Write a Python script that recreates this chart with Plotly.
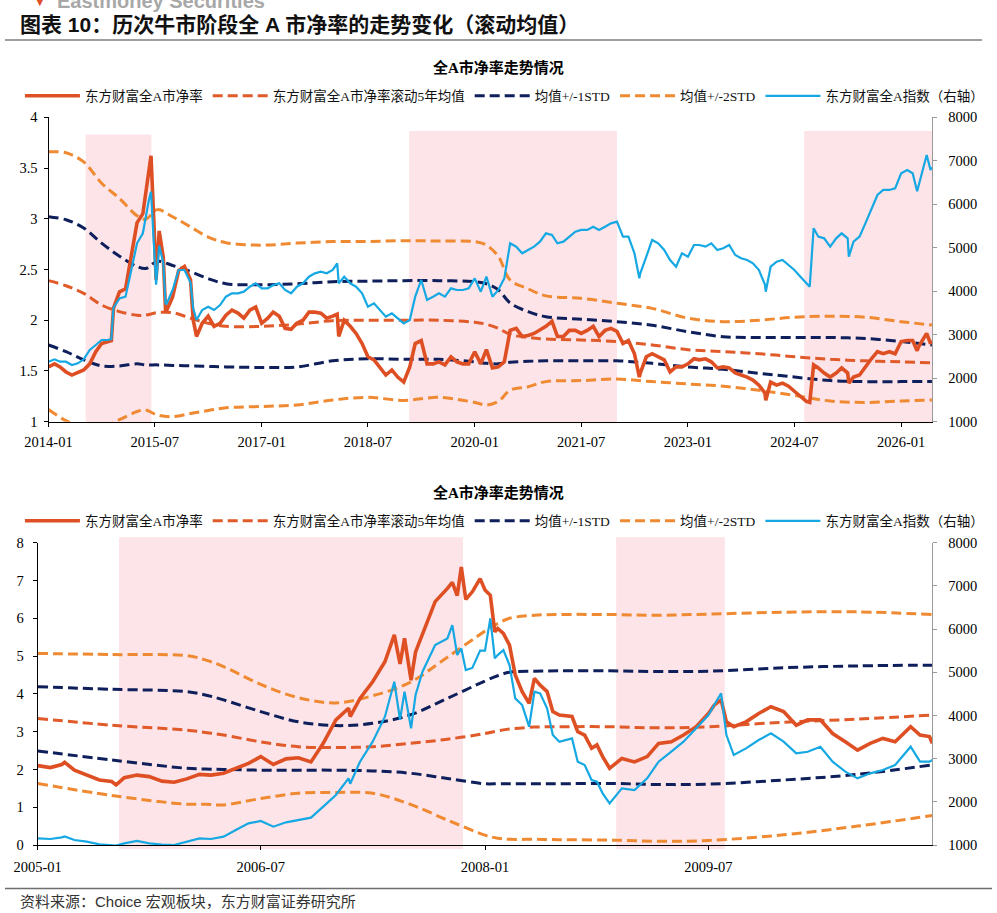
import plotly.graph_objects as go

# ---------------- TOP CHART DATA (2014-2026) ----------------
top_dates = [
    "2014-01-01","2014-02-01","2014-03-01","2014-04-01","2014-05-01","2014-06-01","2014-07-01","2014-08-01","2014-09-01","2014-10-01","2014-11-01","2014-11-20","2014-12-01",
    "2015-01-01","2015-02-01","2015-03-01","2015-04-01","2015-05-01","2015-05-18","2015-06-01","2015-06-12","2015-06-26","2015-07-08","2015-07-24","2015-08-14","2015-08-26","2015-09-01","2015-10-01","2015-11-01","2015-12-01",
    "2016-01-01","2016-01-15","2016-02-01","2016-03-01","2016-04-01","2016-05-01","2016-06-01","2016-07-01","2016-08-01","2016-09-01","2016-10-01","2016-11-01","2016-12-01",
    "2017-01-01","2017-02-01","2017-03-01","2017-04-01","2017-05-01","2017-06-01","2017-07-01","2017-08-01","2017-09-01","2017-10-01","2017-11-01","2017-12-01",
    "2018-01-01","2018-01-24","2018-02-01","2018-03-01","2018-04-01","2018-05-01","2018-06-01","2018-07-01","2018-08-01","2018-09-01","2018-10-01","2018-11-01","2018-12-01",
    "2019-01-01","2019-02-01","2019-03-01","2019-04-01","2019-05-01","2019-06-01","2019-07-01","2019-08-01","2019-09-01","2019-10-01","2019-11-01","2019-12-01",
    "2020-01-01","2020-02-01","2020-03-01","2020-04-01","2020-05-01","2020-06-01","2020-07-01","2020-08-01","2020-09-01","2020-10-01","2020-11-01","2020-12-01",
    "2021-01-01","2021-02-01","2021-03-01","2021-04-01","2021-05-01","2021-06-01","2021-07-01","2021-08-01","2021-09-01","2021-10-01","2021-11-01","2021-12-01",
    "2022-01-01","2022-02-01","2022-03-01","2022-04-01","2022-04-26","2022-05-01","2022-06-01","2022-07-01","2022-08-01","2022-09-01","2022-10-01","2022-11-01","2022-12-01",
    "2023-01-01","2023-02-01","2023-03-01","2023-04-01","2023-05-01","2023-06-01","2023-07-01","2023-08-01","2023-09-01","2023-10-01","2023-11-01","2023-12-01",
    "2024-01-01","2024-02-01","2024-02-05","2024-03-01","2024-04-01","2024-05-01","2024-06-01","2024-07-01","2024-08-01","2024-09-01","2024-09-18","2024-10-08","2024-11-01","2024-12-01",
    "2025-01-01","2025-02-01","2025-03-01","2025-04-01","2025-04-07","2025-05-01","2025-06-01","2025-07-01","2025-08-01","2025-09-01","2025-10-01","2025-11-01","2025-12-01",
    "2026-01-01","2026-02-01","2026-03-01","2026-03-24","2026-04-01","2026-05-01","2026-05-12","2026-06-01","2026-06-08",
]
top_pb = [
    1.54,1.57,1.54,1.49,1.46,1.49,1.51,1.57,1.69,1.77,1.79,1.80,2.12,
    2.28,2.31,2.63,2.96,3.05,3.28,3.41,3.62,3.00,2.40,2.88,2.62,2.08,2.10,2.23,2.49,2.53,
    2.40,2.00,1.84,1.97,2.04,1.94,1.97,2.05,2.10,2.07,2.02,2.10,2.13,
    1.97,2.02,2.08,2.04,1.92,1.91,1.97,2.00,2.08,2.08,2.07,2.02,
    2.04,2.06,1.84,2.00,1.94,1.87,1.77,1.64,1.61,1.54,1.46,1.51,1.44,
    1.39,1.54,1.77,1.80,1.57,1.57,1.59,1.56,1.64,1.59,1.57,1.57,
    1.69,1.57,1.71,1.53,1.54,1.59,1.90,1.92,1.84,1.85,1.87,1.90,
    1.94,1.99,1.84,1.84,1.90,1.90,1.87,1.90,1.94,1.84,1.90,1.92,
    1.89,1.77,1.80,1.67,1.44,1.48,1.64,1.67,1.64,1.61,1.49,1.54,1.54,
    1.57,1.62,1.61,1.62,1.59,1.53,1.54,1.53,1.48,1.46,1.44,1.41,
    1.36,1.28,1.21,1.39,1.36,1.38,1.35,1.30,1.25,1.20,1.19,1.56,1.53,1.48,
    1.44,1.48,1.53,1.48,1.38,1.44,1.46,1.54,1.62,1.69,1.67,1.69,1.67,
    1.79,1.80,1.80,1.70,1.74,1.84,1.87,1.77,1.80,
]
top_index = [
    2380,2434,2380,2380,2304,2342,2434,2649,2764,2879,2879,2900,3620,
    3837,3875,4489,5102,5332,5800,6099,6290,5102,4150,5050,4650,3700,3722,4029,4489,4489,
    4200,3600,3338,3568,3645,3568,3683,3875,3952,3952,3990,4105,4182,
    4067,4067,4143,4182,4029,3952,4105,4182,4335,4412,4450,4412,
    4489,4640,4182,4335,4182,4105,3952,3645,3722,3568,3415,3492,3377,
    3262,3338,3875,4259,3799,3875,3952,3875,4067,4029,4029,4067,
    4297,3990,4335,3875,4029,4297,5102,5025,4872,4949,5025,5140,
    5332,5294,5102,5140,5255,5370,5409,5409,5485,5409,5485,5562,
    5600,5255,5255,4872,4300,4412,4795,5179,5102,4949,4719,4565,4872,
    4795,5063,5063,5025,5102,4949,4987,5063,4834,4757,4719,4642,
    4489,4150,3990,4565,4680,4719,4604,4489,4335,4182,4105,5450,5255,5217,
    5025,5217,5332,5217,4795,5140,5255,5562,5868,6214,6329,6329,6367,
    6712,6789,6712,6300,6450,6942,7134,6789,6850,
]
top_band_dates = [
    "2014-01-01","2014-04-01","2014-07-01","2014-10-01","2015-01-01","2015-04-01","2015-05-15","2015-07-15",
    "2015-10-01","2016-01-01","2016-04-01","2016-07-01","2017-01-01","2017-07-01","2018-01-01","2018-07-01",
    "2019-01-01","2019-07-01","2020-01-01","2020-03-01","2020-05-01","2020-07-01","2020-10-01","2021-01-01",
    "2021-07-01","2022-01-01","2022-07-01","2023-01-01","2023-07-01","2024-01-01","2024-07-01","2025-01-01",
    "2025-07-01","2026-01-01","2026-06-08",
]
top_mean = [2.39,2.34,2.265,2.15,2.085,2.05,2.05,2.075,2.075,2.02,1.97,1.94,1.94,1.96,1.996,2.0,
            2.0,2.0,1.98,1.96,1.92,1.86,1.83,1.815,1.805,1.79,1.756,1.71,1.69,1.67,1.64,1.615,1.60,1.59,1.58]
top_up1 = [3.02,2.99,2.91,2.76,2.63,2.53,2.51,2.58,2.54,2.48,2.41,2.36,2.35,2.36,2.38,2.385,
           2.39,2.39,2.38,2.36,2.30,2.17,2.085,2.035,2.01,1.986,1.95,1.887,1.838,1.83,1.83,1.83,1.82,1.79,1.756]
top_dn1 = [1.756,1.69,1.61,1.55,1.55,1.57,1.56,1.56,1.555,1.55,1.545,1.54,1.535,1.54,1.60,1.62,
           1.615,1.615,1.59,1.575,1.57,1.585,1.595,1.60,1.60,1.60,1.575,1.54,1.516,1.477,1.44,1.405,1.395,1.395,1.395]
top_up2 = [3.66,3.65,3.56,3.35,3.20,3.03,2.995,3.09,3.02,2.92,2.82,2.764,2.74,2.76,2.775,2.775,
           2.784,2.78,2.775,2.74,2.63,2.396,2.31,2.24,2.216,2.167,2.117,2.02,1.986,2.0,2.03,2.04,2.03,1.986,1.953]
top_dn2 = [1.12,1.01,0.95,0.95,1.02,1.10,1.115,1.066,1.05,1.08,1.11,1.138,1.15,1.165,1.214,1.24,
           1.21,1.24,1.19,1.165,1.20,1.31,1.345,1.395,1.405,1.42,1.395,1.372,1.35,1.31,1.26,1.204,1.19,1.204,1.214]
top_bull_start = ["2014-07-11", "2019-01-29", "2024-08-21"]
top_bull_end = ["2015-06-14", "2022-01-01", "2026-06-10"]

# ---------------- BOTTOM CHART DATA (2005-2010) ----------------
bot_dates = [
    "2005-01-01","2005-02-01","2005-03-01","2005-03-08","2005-04-01","2005-05-01","2005-06-01","2005-07-01","2005-07-12","2005-08-01","2005-09-01","2005-10-01","2005-11-01","2005-12-01",
    "2006-01-01","2006-02-01","2006-03-01","2006-04-01","2006-05-01","2006-06-01","2006-07-01","2006-08-01","2006-09-01","2006-10-01","2006-11-01","2006-12-01",
    "2007-01-01","2007-02-01","2007-02-05","2007-03-01","2007-04-01","2007-05-01","2007-05-24","2007-06-07","2007-06-18","2007-07-04","2007-07-15","2007-08-01","2007-09-01","2007-10-01","2007-10-13","2007-10-25","2007-11-04","2007-11-15","2007-12-01","2007-12-20",
    "2008-01-01","2008-01-14","2008-01-25","2008-02-01","2008-02-15","2008-03-01","2008-03-15","2008-04-01","2008-04-18","2008-05-01","2008-05-15","2008-06-01","2008-06-15","2008-07-01","2008-08-01","2008-08-15","2008-09-01","2008-09-18","2008-10-01","2008-10-15","2008-11-01","2008-12-01",
    "2009-01-01","2009-02-01","2009-03-01","2009-04-01","2009-05-01","2009-06-01","2009-07-01","2009-07-15","2009-08-01","2009-08-14","2009-09-01","2009-10-01","2009-11-01","2009-12-01",
    "2010-01-01","2010-02-01","2010-03-01","2010-04-01","2010-05-01","2010-06-01","2010-07-01","2010-08-01","2010-09-01","2010-10-01","2010-11-01","2010-11-08","2010-12-01","2010-12-24","2010-12-31",
]
bot_pb = [
    2.10,2.05,2.13,2.19,1.98,1.85,1.72,1.68,1.59,1.78,1.85,1.81,1.69,1.66,
    1.75,1.87,1.85,1.90,2.03,2.16,2.34,2.13,2.28,2.31,2.20,2.69,
    3.31,3.62,3.40,3.88,4.32,4.85,5.56,4.79,5.47,4.36,5.11,5.56,6.44,6.79,6.95,6.60,7.36,6.50,6.70,7.05,
    6.75,6.61,5.64,5.73,5.60,5.29,4.50,4.06,3.75,4.41,4.23,4.06,3.53,3.44,3.40,3.00,2.91,2.56,2.65,2.34,2.03,2.29,
    2.20,2.34,2.69,2.73,2.91,3.13,3.48,3.70,3.84,3.26,3.13,3.26,3.48,3.66,
    3.53,3.17,3.31,3.31,2.95,2.73,2.51,2.69,2.82,2.73,3.04,3.13,2.91,2.87,2.69,
]
bot_index = [
    1154,1139,1177,1200,1116,1077,1015,990,985,1039,1093,1039,1010,1000,
    1077,1154,1139,1193,1347,1502,1556,1424,1525,1579,1633,1887,
    2157,2543,2420,2929,3392,3971,4780,3900,4550,3700,4472,5012,5630,5784,6093,5400,5550,5050,5100,5500,
    5500,6247,5321,5398,5514,5167,4395,4241,3739,4549,4511,4164,3546,3392,3469,2929,2852,2505,2466,2196,1965,2312,
    2273,2543,2929,3160,3392,3701,4009,4241,4511,3546,3083,3238,3430,3585,
    3392,3122,3160,3276,2929,2698,2543,2659,2736,2852,3199,3276,2929,2929,2968,
]
bot_band_dates = [
    "2005-01-01","2005-07-01","2006-01-01","2006-02-15","2006-04-01","2006-07-01","2006-10-01","2007-01-01",
    "2007-04-01","2007-07-01","2007-10-01","2008-01-01","2008-02-01","2008-03-01","2008-05-01","2008-07-01",
    "2008-11-01","2009-03-01","2009-07-01","2010-01-01","2010-07-01","2010-12-31",
]
bot_up2 = [5.07,5.04,5.01,4.90,4.72,4.25,3.90,3.76,3.95,4.30,4.97,5.66,5.86,6.0,6.08,6.10,6.10,6.08,6.11,6.16,6.17,6.10]
bot_up1 = [4.19,4.12,4.06,3.97,3.84,3.53,3.26,3.16,3.22,3.44,3.88,4.34,4.48,4.57,4.60,4.61,4.61,4.59,4.60,4.69,4.74,4.76]
bot_mean = [3.35,3.17,3.04,2.98,2.91,2.73,2.60,2.58,2.60,2.69,2.80,2.95,3.02,3.07,3.12,3.13,3.13,3.10,3.13,3.25,3.33,3.44]
bot_dn1 = [2.49,2.25,2.03,2.01,2.00,1.98,1.98,1.98,1.96,1.90,1.76,1.62,1.62,1.62,1.62,1.62,1.63,1.60,1.61,1.72,1.87,2.12]
bot_dn2 = [1.63,1.31,1.08,1.08,1.06,1.23,1.37,1.39,1.37,1.08,0.66,0.26,0.18,0.15,0.15,0.14,0.13,0.10,0.12,0.27,0.50,0.78]
bot_bull_start = ["2005-07-19", "2008-11-17"]
bot_bull_end = ["2007-11-08", "2009-08-10"]

names = ["东方财富全A市净率", "东方财富全A市净率滚动5年均值", "均值+/-1STD", "均值+/-2STD", "东方财富全A指数（右轴）"]

# ---------------- STYLE ----------------
C_PB = "#DE5024"
C_MEAN = "#E05A2A"
C_NAVY = "#0E1F5B"
C_ORANGE = "#F08A32"
C_BLUE = "#15A8E3"
C_SHADE = "#FCE4E8"
DASH = "10px,5px"
SERIF = "Liberation Serif, Noto Sans CJK SC"
CJK = "Liberation Serif, Noto Sans CJK SC"

fig = go.Figure()


def add_panel(xa, ya, ya2, leg, dates, pb, idx, bdates, mean, up1, dn1, up2, dn2):
    fig.add_trace(go.Scatter(x=bdates, y=up2, mode="lines", name=names[3], legend=leg, legendrank=4,
                             line=dict(color=C_ORANGE, width=3, dash=DASH, shape="spline"), xaxis=xa, yaxis=ya))
    fig.add_trace(go.Scatter(x=bdates, y=dn2, mode="lines", name=names[3], legend=leg, showlegend=False,
                             line=dict(color=C_ORANGE, width=3, dash=DASH, shape="spline"), xaxis=xa, yaxis=ya))
    fig.add_trace(go.Scatter(x=bdates, y=up1, mode="lines", name=names[2], legend=leg, legendrank=3,
                             line=dict(color=C_NAVY, width=3, dash=DASH, shape="spline"), xaxis=xa, yaxis=ya))
    fig.add_trace(go.Scatter(x=bdates, y=dn1, mode="lines", name=names[2], legend=leg, showlegend=False,
                             line=dict(color=C_NAVY, width=3, dash=DASH, shape="spline"), xaxis=xa, yaxis=ya))
    fig.add_trace(go.Scatter(x=bdates, y=mean, mode="lines", name=names[1], legend=leg, legendrank=2,
                             line=dict(color=C_MEAN, width=3, dash=DASH, shape="spline"), xaxis=xa, yaxis=ya))
    fig.add_trace(go.Scatter(x=dates, y=pb, mode="lines", name=names[0], legend=leg, legendrank=1,
                             line=dict(color=C_PB, width=3.6), xaxis=xa, yaxis=ya))
    fig.add_trace(go.Scatter(x=dates, y=idx, mode="lines", name=names[4], legend=leg, legendrank=5,
                             line=dict(color=C_BLUE, width=2.2), xaxis=xa, yaxis=ya2))


add_panel("x", "y", "y2", "legend", top_dates, top_pb, top_index, top_band_dates,
          top_mean, top_up1, top_dn1, top_up2, top_dn2)
add_panel("x2", "y3", "y4", "legend2", bot_dates, bot_pb, bot_index, bot_band_dates,
          bot_mean, bot_up1, bot_dn1, bot_up2, bot_dn2)

shapes = []
for i, (s, e) in enumerate(zip(top_bull_start, top_bull_end)):
    shapes.append(dict(type="rect", xref="x", yref="y domain", x0=s, x1=e, y0=-0.005,
                       y1=0.9435 if i == 0 else 0.955, fillcolor=C_SHADE, line_width=0, layer="below"))
for s, e in zip(bot_bull_start, bot_bull_end):
    shapes.append(dict(type="rect", xref="x2", yref="y3 domain", x0=s, x1=e, y0=-0.013, y1=1.018,
                       fillcolor=C_SHADE, line_width=0, layer="below"))
shapes.append(dict(type="line", xref="paper", yref="paper", x0=0.005, x1=0.985, y0=1 - 40 / 913, y1=1 - 40 / 913,
                   line=dict(color="#9E9E9E", width=2)))
shapes.append(dict(type="line", xref="paper", yref="paper", x0=0.005, x1=0.995, y0=1 - 888.5 / 913, y1=1 - 888.5 / 913,
                   line=dict(color="#6E6E6E", width=1.5)))

tickfont = dict(family=SERIF, size=14.5, color="#000")
xcommon = dict(type="date", dtick="M18", tickformat="%Y-%m", ticks="outside", ticklen=4, tickcolor="#000",
               showline=True, linecolor="#000", linewidth=1, showgrid=False, zeroline=False,
               tickfont=tickfont, automargin=False)
ycommon = dict(ticks="outside", ticklen=4, tickcolor="#000", showline=True, linecolor="#000", linewidth=1,
               showgrid=False, zeroline=False, tickfont=tickfont, automargin=False)
y2common = dict(ticks="outside", ticklen=4, tickcolor="#9A9A9A", showline=True, linecolor="#9A9A9A", linewidth=1,
                showgrid=False, zeroline=False, tickfont=tickfont, automargin=False, side="right",
                range=[1000, 8000], dtick=1000, ticklabelstandoff=8)

legcommon = dict(orientation="h", xanchor="left", yanchor="middle", font=dict(family=CJK, size=13.5, color="#111"),
                 bgcolor="rgba(0,0,0,0)", itemwidth=55, tracegroupgap=0, traceorder="normal")

fig.update_layout(
    width=997, height=913, margin=dict(l=0, r=0, t=0, b=0),
    paper_bgcolor="white", plot_bgcolor="rgba(0,0,0,0)",
    showlegend=True,
    xaxis=dict(xcommon, domain=[48.5 / 997, 932.3 / 997], anchor="y", range=["2014-01-01", "2026-06-10"],
               tick0="2014-01-01", ticklabelstandoff=3),
    yaxis=dict(ycommon, domain=[1 - 421.7 / 913, 1 - 117.3 / 913], anchor="x", range=[1, 4], dtick=0.5,
               ticklabelstandoff=3),
    yaxis2=dict(y2common, overlaying="y", anchor="x"),
    xaxis2=dict(xcommon, domain=[37.7 / 997, 932.3 / 997], anchor="y3", range=["2005-01-01", "2010-12-31"],
                tick0="2005-01-01", ticklabelstandoff=5),
    yaxis3=dict(ycommon, domain=[1 - 845 / 913, 1 - 542.7 / 913], anchor="x2", range=[0, 8], dtick=1,
                ticklabelstandoff=6),
    yaxis4=dict(y2common, overlaying="y3", anchor="x2"),
    legend=dict(legcommon, x=0.02, y=1 - 96 / 913),
    legend2=dict(legcommon, x=0.02, y=1 - 521 / 913),
    shapes=shapes,
    annotations=[
        dict(text="Eastmoney Securities", xref="paper", yref="paper", x=55 / 997, y=1 - 1 / 913,
             xanchor="left", yanchor="middle", showarrow=False,
             font=dict(family="Liberation Sans", size=20, color="#A8A8A8", weight="bold")),
        dict(text="▼", xref="paper", yref="paper", x=40 / 997, y=1 - 2 / 913, xanchor="center", yanchor="middle",
             showarrow=False, font=dict(family="DejaVu Sans", size=10, color="#E0502A")),
        dict(text="图表 10：历次牛市阶段全 A 市净率的走势变化（滚动均值）", xref="paper", yref="paper",
             x=18 / 997, y=1 - 25 / 913, xanchor="left", yanchor="middle", showarrow=False,
             font=dict(family="Liberation Sans, Noto Sans CJK SC", size=21, color="#111", weight="bold")),
        dict(text="全A市净率走势情况", xref="paper", yref="paper", x=499 / 997, y=1 - 68 / 913,
             xanchor="center", yanchor="middle", showarrow=False,
             font=dict(family=CJK, size=15, color="#000", weight="bold")),
        dict(text="全A市净率走势情况", xref="paper", yref="paper", x=499 / 997, y=1 - 492 / 913,
             xanchor="center", yanchor="middle", showarrow=False,
             font=dict(family=CJK, size=15, color="#000", weight="bold")),
        dict(text="资料来源：Choice 宏观板块，东方财富证券研究所", xref="paper", yref="paper",
             x=18 / 997, y=1 - 901 / 913, xanchor="left", yanchor="middle", showarrow=False,
             font=dict(family="Liberation Sans, Noto Sans CJK SC", size=15, color="#333")),
    ],
)

fig.write_html("out.html")
